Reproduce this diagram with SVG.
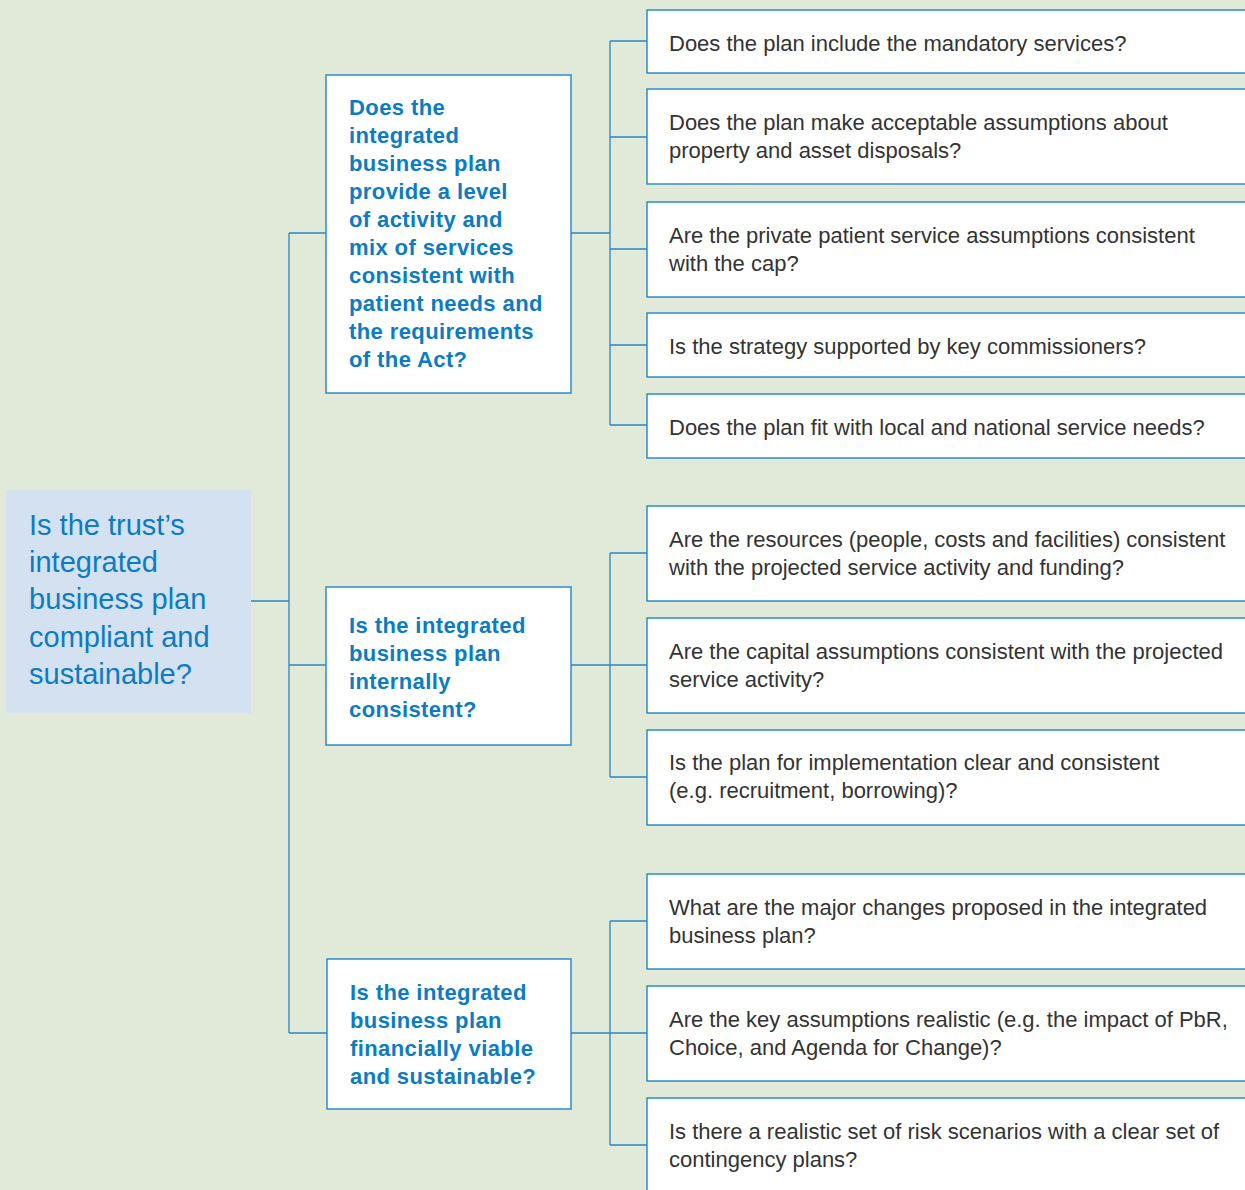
<svg xmlns="http://www.w3.org/2000/svg" width="1245" height="1190" viewBox="0 0 1245 1190">
<style>
.bg{fill:#e1e9d9}
.root{fill:#d3e1f1}
.mid{fill:#ffffff;stroke:#2f8ccb;stroke-width:1.5}
.leaf{fill:#ffffff;stroke:#2f8ccb;stroke-width:1.5}
.conn{fill:none;stroke:#2a86c6;stroke-width:1.3}
.rt{font-family:"Liberation Sans",Arial,sans-serif;font-size:29px;fill:#0b7cc4}
.mt{font-family:"Liberation Sans",Arial,sans-serif;font-size:22px;letter-spacing:0.4px;font-weight:bold;fill:#0b7cc4}
.lt{font-family:"Liberation Sans",Arial,sans-serif;font-size:22px;fill:#333333}
</style>
<rect class="bg" x="0" y="0" width="1245" height="1190"/>
<g id="connectors">
<path class="conn" d="M251,601 H289 M289,233 V1033 M289,233 H326 M289,665 H326 M289,1033 H327"/>
<path class="conn" d="M571,233 H610 M610,41 V425 M610,41 H647 M610,137 H647 M610,249 H647 M610,345 H647 M610,425 H647"/>
<path class="conn" d="M571,665 H647 M610,553 V777 M610,553 H647 M610,777 H647"/>
<path class="conn" d="M571,1033 H647 M610,921 V1145 M610,921 H647 M610,1145 H647"/>
</g>
<g id="root">
<rect class="root" x="6" y="490" width="245" height="223"/>
<text class="rt" x="29" y="535">Is the trust’s</text>
<text class="rt" x="29" y="572">integrated</text>
<text class="rt" x="29" y="609">business plan</text>
<text class="rt" x="29" y="647">compliant and</text>
<text class="rt" x="29" y="684">sustainable?</text>
</g>
<g id="mid1">
<rect class="mid" x="326" y="75" width="245" height="318"/>
<text class="mt" x="349" y="115">Does the</text>
<text class="mt" x="349" y="143">integrated</text>
<text class="mt" x="349" y="171">business plan</text>
<text class="mt" x="349" y="199">provide a level</text>
<text class="mt" x="349" y="227">of activity and</text>
<text class="mt" x="349" y="255">mix of services</text>
<text class="mt" x="349" y="283">consistent with</text>
<text class="mt" x="349" y="311">patient needs and</text>
<text class="mt" x="349" y="339">the requirements</text>
<text class="mt" x="349" y="367">of the Act?</text>
</g>
<g id="mid2">
<rect class="mid" x="326" y="587" width="245" height="158"/>
<text class="mt" x="349" y="633">Is the integrated</text>
<text class="mt" x="349" y="661">business plan</text>
<text class="mt" x="349" y="689">internally</text>
<text class="mt" x="349" y="717">consistent?</text>
</g>
<g id="mid3">
<rect class="mid" x="327" y="959" width="244" height="150"/>
<text class="mt" x="350" y="1000">Is the integrated</text>
<text class="mt" x="350" y="1028">business plan</text>
<text class="mt" x="350" y="1056">financially viable</text>
<text class="mt" x="350" y="1084">and sustainable?</text>
</g>
<g id="leaf1">
<rect class="leaf" x="647" y="10" width="610" height="63"/>
<text class="lt" x="669" y="51">Does the plan include the mandatory services?</text>
</g>
<g id="leaf2">
<rect class="leaf" x="647" y="89" width="610" height="95"/>
<text class="lt" x="669" y="130">Does the plan make acceptable assumptions about</text>
<text class="lt" x="669" y="158">property and asset disposals?</text>
</g>
<g id="leaf3">
<rect class="leaf" x="647" y="202" width="610" height="95"/>
<text class="lt" x="669" y="243">Are the private patient service assumptions consistent</text>
<text class="lt" x="669" y="271">with the cap?</text>
</g>
<g id="leaf4">
<rect class="leaf" x="647" y="313" width="610" height="64"/>
<text class="lt" x="669" y="354">Is the strategy supported by key commissioners?</text>
</g>
<g id="leaf5">
<rect class="leaf" x="647" y="394" width="610" height="64"/>
<text class="lt" x="669" y="435">Does the plan fit with local and national service needs?</text>
</g>
<g id="leaf6">
<rect class="leaf" x="647" y="506" width="610" height="95"/>
<text class="lt" x="669" y="547">Are the resources (people, costs and facilities) consistent</text>
<text class="lt" x="669" y="575">with the projected service activity and funding?</text>
</g>
<g id="leaf7">
<rect class="leaf" x="647" y="618" width="610" height="95"/>
<text class="lt" x="669" y="659">Are the capital assumptions consistent with the projected</text>
<text class="lt" x="669" y="687">service activity?</text>
</g>
<g id="leaf8">
<rect class="leaf" x="647" y="730" width="610" height="95"/>
<text class="lt" x="669" y="770">Is the plan for implementation clear and consistent</text>
<text class="lt" x="669" y="798">(e.g. recruitment, borrowing)?</text>
</g>
<g id="leaf9">
<rect class="leaf" x="647" y="874" width="610" height="95"/>
<text class="lt" x="669" y="915">What are the major changes proposed in the integrated</text>
<text class="lt" x="669" y="943">business plan?</text>
</g>
<g id="leaf10">
<rect class="leaf" x="647" y="986" width="610" height="95"/>
<text class="lt" x="669" y="1027">Are the key assumptions realistic (e.g. the impact of PbR,</text>
<text class="lt" x="669" y="1055">Choice, and Agenda for Change)?</text>
</g>
<g id="leaf11">
<rect class="leaf" x="647" y="1098" width="610" height="110"/>
<text class="lt" x="669" y="1139">Is there a realistic set of risk scenarios with a clear set of</text>
<text class="lt" x="669" y="1167">contingency plans?</text>
</g>
</svg>
